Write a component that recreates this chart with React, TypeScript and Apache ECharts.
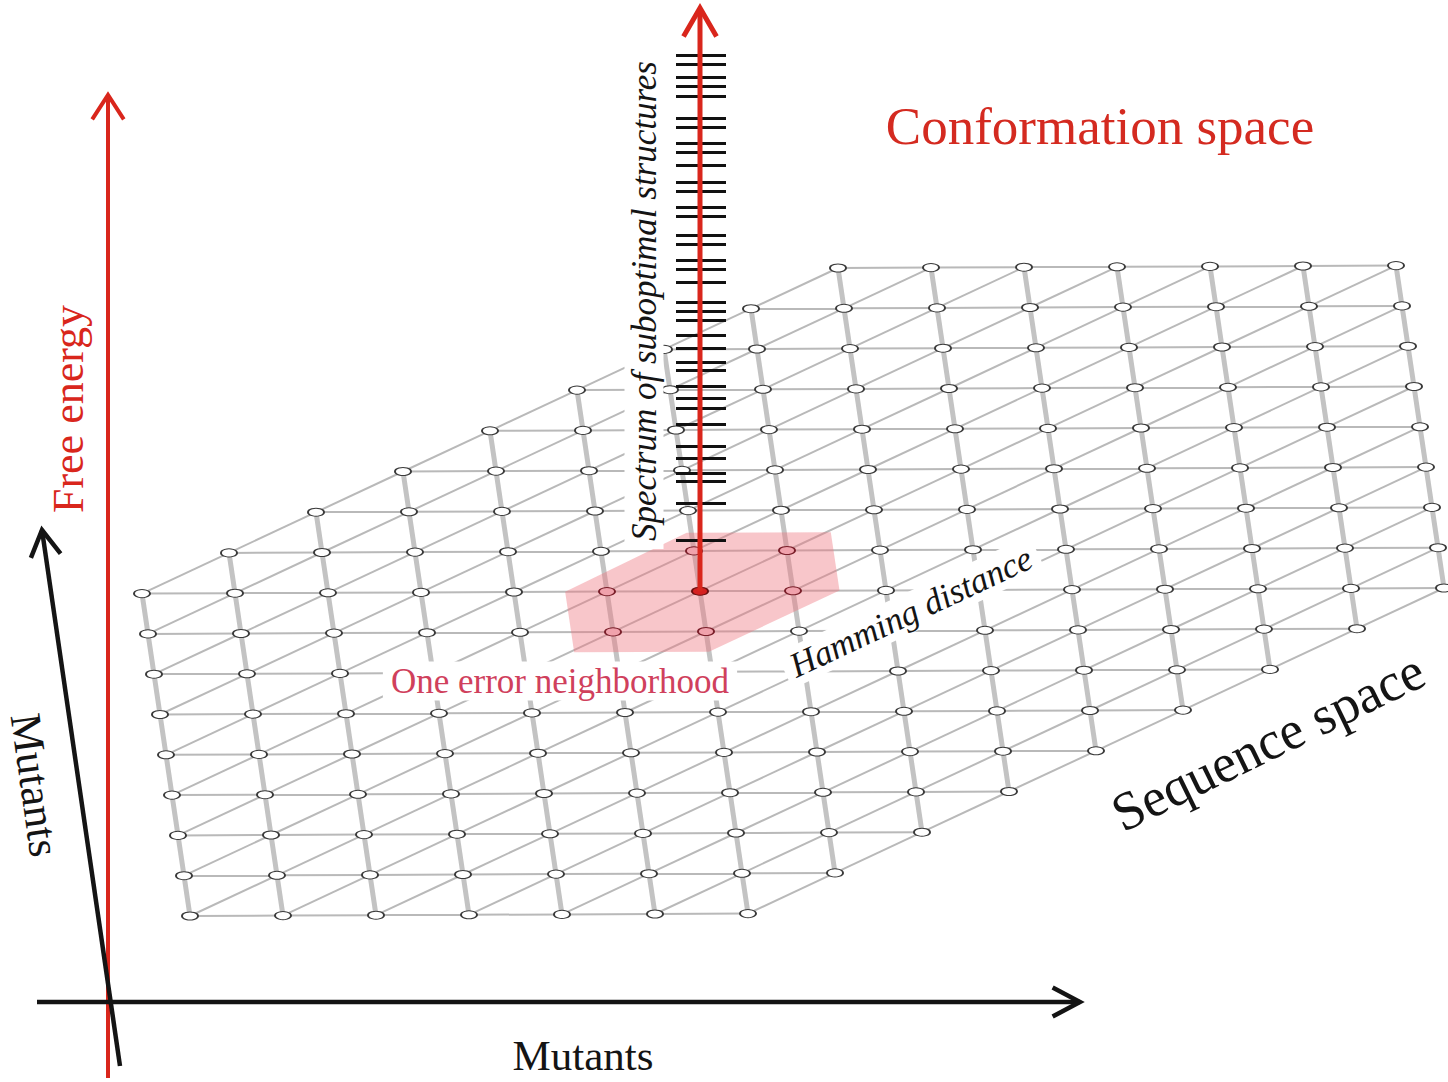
import React, { useEffect, useRef } from "react";
import * as echarts from "echarts";

const W = 1448;
const H = 1082;

// ---- data: hexagonal patch of sequence space (lattice indices) ----
const ROW_RANGE = [0, 16]; // i : rows (thick "vertical" direction)
const COL_RANGE = [-8, 6]; // j : columns (horizontal direction)
const DIAG_RANGE = [0, 14]; // i + j : diagonal boundaries
const CENTER_NODE = [8, -2];
const NEIGHBOR_OFFSETS = [[0, -1], [0, 1], [-1, 0], [1, 0], [-1, 1], [1, -1]];
const NEIGHBORHOOD_HULL = [[8, -3.45], [6.55, -2.05], [6.55, -0.5], [8, -0.5], [9.5, -2.0], [9.5, -3.45]];

// ---- data: spectrum of suboptimal free energies (above ground state) ----
const SPECTRUM_ENERGIES = [
  5.1, 8.8, 11.0, 11.8, 13.3, 14.5, 16.7, 18.3, 19.3, 20.5, 22.1, 22.9, 24.3, 25.6,
  27.1, 28.0, 28.9, 30.9, 32.2, 33.1, 34.7, 35.6, 37.5, 38.4, 40.0, 40.9, 42.6, 43.9,
  44.8, 46.4, 47.3, 49.5, 50.5, 51.4, 52.7, 53.6,
];
const ENERGY_AXIS = [-49.1, 59.1];

// ---- labels ----
const LABELS = {
  conformation: "Conformation space",
  freeEnergy: "Free energy",
  mutants: "Mutants",
  spectrum: "Spectrum of suboptimal structures",
  hamming: "Hamming distance",
  neighborhood: "One error neighborhood",
  sequence: "Sequence space",
};

// oblique projection of the lattice onto the page coordinate system
const proj = (i: number, j: number): number[] => [838 + 93 * j + 6 * i, 268 + 40.3 * i - 0.4 * j];

const inHex = (i: number, j: number) =>
  i >= ROW_RANGE[0] && i <= ROW_RANGE[1] && j >= COL_RANGE[0] && j <= COL_RANGE[1] &&
  i + j >= DIAG_RANGE[0] && i + j <= DIAG_RANGE[1];

function chevron(tip: number[], from: number[], len: number, half: number): number[][] {
  const dx = from[0] - tip[0];
  const dy = from[1] - tip[1];
  const d = Math.hypot(dx, dy);
  const ux = dx / d;
  const uy = dy / d;
  const a = (half * Math.PI) / 180;
  const r = (t: number) => [ux * Math.cos(t) - uy * Math.sin(t), ux * Math.sin(t) + uy * Math.cos(t)];
  const p = r(a);
  const q = r(-a);
  return [[tip[0] + p[0] * len, tip[1] + p[1] * len], tip, [tip[0] + q[0] * len, tip[1] + q[1] * len]];
}

function buildOption() {
  const vertical: any[] = [];
  const thin: any[] = [];
  const nodesWhite: number[][] = [];
  const nodesPink: number[][] = [];
  const nodesRed: number[][] = [];
  const neighborKeys = new Set(NEIGHBOR_OFFSETS.map(([a, b]) => `${CENTER_NODE[0] + a},${CENTER_NODE[1] + b}`));
  for (let i = ROW_RANGE[0]; i <= ROW_RANGE[1]; i++) {
    for (let j = COL_RANGE[0]; j <= COL_RANGE[1]; j++) {
      if (!inHex(i, j)) continue;
      if (inHex(i + 1, j)) vertical.push({ coords: [proj(i, j), proj(i + 1, j)] });
      if (inHex(i, j + 1)) thin.push({ coords: [proj(i, j), proj(i, j + 1)] });
      if (inHex(i - 1, j + 1)) thin.push({ coords: [proj(i, j), proj(i - 1, j + 1)] });
      const key = `${i},${j}`;
      if (i === CENTER_NODE[0] && j === CENTER_NODE[1]) nodesRed.push(proj(i, j));
      else if (neighborKeys.has(key)) nodesPink.push(proj(i, j));
      else nodesWhite.push(proj(i, j));
    }
  }

  const center = proj(CENTER_NODE[0], CENTER_NODE[1]);
  const specX = center[0];

  const feBase = [108, 1078];
  const feTip = [108, 95];
  const mBase = [120, 1066];
  const mTip = [42, 530];
  const hBase = [37, 1002];
  const hTip = [1080, 1002];
  const sTip = [specX, 8];

  const red = "#d9261c";
  const black = "#141414";

  const lineSeries = (data: any[], color: string, width: number, z: number, polyline = false, yAxisIndex = 0) => ({
    type: "lines",
    coordinateSystem: "cartesian2d",
    xAxisIndex: 0,
    yAxisIndex,
    polyline,
    silent: true,
    z,
    lineStyle: { color, width, opacity: 1, cap: "butt", join: "miter" },
    data,
  });

  const scatter = (data: number[][], fill: string, border: string, z: number) => ({
    type: "scatter",
    data,
    symbol: "circle",
    symbolSize: [16, 8],
    silent: true,
    z,
    itemStyle: { color: fill, borderColor: border, borderWidth: 1.4, opacity: 1 },
  });

  const text = (t: string, x: number, y: number, rotation: number, font: string, fill: string, bg?: boolean) => ({
    type: "text",
    x,
    y,
    rotation,
    z: 100,
    silent: true,
    style: {
      text: t,
      font,
      fill,
      align: "center",
      verticalAlign: "middle",
      textAlign: "center",
      textVerticalAlign: "middle",
      backgroundColor: bg ? "#ffffff" : undefined,
      padding: bg ? [2, 8] : 0,
    },
  });

  const serif = '"Liberation Serif", "DejaVu Serif", serif';

  return {
    animation: false,
    backgroundColor: "#ffffff",
    grid: { left: 0, right: 0, top: 0, bottom: 0 },
    xAxis: { type: "value", min: 0, max: W, show: false },
    yAxis: [
      { type: "value", min: 0, max: H, inverse: true, show: false },
      { type: "value", min: ENERGY_AXIS[0], max: ENERGY_AXIS[1], show: false },
    ],
    series: [
      lineSeries(vertical, "#c3c3c3", 5, 1),
      lineSeries(thin, "#b9b9b9", 2, 1),
      {
        type: "custom",
        silent: true,
        clip: false,
        z: 3,
        data: [0],
        renderItem: (_p: any, api: any) => ({
          type: "polygon",
          shape: { points: NEIGHBORHOOD_HULL.map(([i, j]) => api.coord(proj(i, j))) },
          style: { fill: "rgba(238,120,128,0.42)" },
        }),
      },
      scatter(nodesWhite, "#ffffff", "#3a3a3a", 4),
      scatter(nodesPink, "#f0a2ac", "#7a1f2a", 4),
      scatter(nodesRed, "#d42020", "#6a0f0f", 6),
      // axes
      lineSeries([{ coords: [feBase, feTip] }, { coords: chevron(feTip, feBase, 29, 33) }], red, 4, 5, true),
      lineSeries([{ coords: [mBase, mTip] }, { coords: chevron(mTip, mBase, 30, 30) }], black, 4.5, 5, true),
      lineSeries([{ coords: [hBase, hTip] }, { coords: chevron(hTip, hBase, 31, 28) }], black, 4.5, 5, true),
      // spectrum
      lineSeries(
        SPECTRUM_ENERGIES.map((e) => ({ coords: [[specX - 24, e], [specX + 26, e]] })),
        "#111111",
        3,
        6,
        false,
        1,
      ),
      lineSeries([{ coords: [center, sTip] }, { coords: chevron(sTip, center, 33, 30) }], red, 5, 7, true),
    ],
    graphic: [
      text(LABELS.conformation, 1100, 126, 0, `53px ${serif}`, "#d42a20"),
      text(LABELS.freeEnergy, 68, 409, Math.PI / 2, `44px ${serif}`, red),
      text(LABELS.mutants, 35, 785, (-82 * Math.PI) / 180, `44px ${serif}`, black),
      text(LABELS.mutants, 583, 1055, 0, `43px ${serif}`, black),
      text(LABELS.spectrum, 644, 301, Math.PI / 2, `italic 35px ${serif}`, black, true),
      text(LABELS.hamming, 911, 612, (25 * Math.PI) / 180, `italic 35px ${serif}`, black, true),
      text(LABELS.neighborhood, 560, 681, 0, `35px ${serif}`, "#d0405c", true),
      text(LABELS.sequence, 1268, 742, (26 * Math.PI) / 180, `54px ${serif}`, black),
    ],
  };
}

export default function App() {
  const ref = useRef<HTMLDivElement>(null);
  useEffect(() => {
    const chart = echarts.init(ref.current as HTMLDivElement, null, { renderer: "svg" });
    chart.setOption(buildOption() as any);
    return () => chart.dispose();
  }, []);
  return (
    <div
      ref={ref}
      style={{ position: "fixed", left: 0, top: 0, width: W, height: H, background: "#ffffff" }}
    />
  );
}
